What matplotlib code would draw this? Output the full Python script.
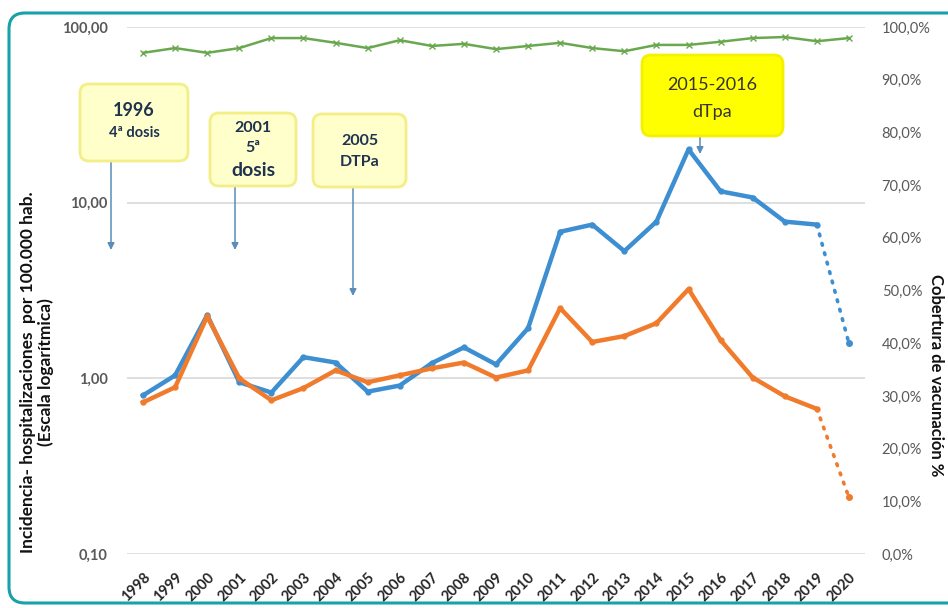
import matplotlib
matplotlib.use("Agg")
import matplotlib.pyplot as plt
from matplotlib.patches import FancyBboxPatch, FancyArrowPatch
from matplotlib.ticker import NullLocator

plt.rcParams['font.family'] = ['Lato', 'DejaVu Sans']

years = list(range(1998, 2021))
incidencia_total = [0.80, 1.04, 2.29, 0.95, 0.83, 1.32, 1.23, 0.84, 0.91, 1.22, 1.50,
                    1.20, 1.93, 6.83, 7.50, 5.30, 7.80, 20.1, 11.6, 10.7, 7.80, 7.50, 1.58]
incidencia_menores = [0.73, 0.89, 2.25, 1.00, 0.75, 0.88, 1.11, 0.95, 1.04, 1.14, 1.23,
                      1.01, 1.11, 2.51, 1.61, 1.74, 2.06, 3.22, 1.65, 1.01, 0.79, 0.67, 0.21]
cobertura = [95.1, 96.0, 95.1, 96.0, 97.9, 97.9, 97.0, 96.0, 97.5, 96.4, 96.8, 95.8,
             96.4, 97.0, 96.0, 95.4, 96.6, 96.6, 97.2, 97.9, 98.1, 97.3, 97.9]
left_ticks = [0.1, 1, 10, 100]
left_labels = ["0,10", "1,00", "10,00", "100,00"]
right_ticks = list(range(0, 101, 10))
right_labels = [f"{v},0%" for v in right_ticks]

BLUE = "#3d8fd1"
ORANGE = "#f07b2c"
GREEN = "#6aa84f"
W, H = 948, 608

fig = plt.figure(figsize=(W / 100, H / 100), dpi=100)
fig.patch.set_facecolor("white")

def fx(px):
    return px / W

def fy(py):
    return 1 - py / H

ax_l, ax_r, ax_t, ax_b = 127, 865, 27, 554
ax = fig.add_axes([fx(ax_l), fy(ax_b), fx(ax_r - ax_l), (ax_b - ax_t) / H])
ax.set_yscale("log")
ax.set_ylim(0.1, 100)
ax.set_xlim(1997.5, 2020.5)
for s in ax.spines.values():
    s.set_visible(False)
ax.set_yticks(left_ticks)
ax.set_yticklabels(left_labels)
ax.yaxis.set_minor_locator(NullLocator())
ax.tick_params(axis="y", length=0, pad=14, labelsize=10.5, labelcolor="#595959")
for t in ax.get_yticklabels():
    t.set_fontweight("bold")
ax.set_xticks(years)
ax.set_xticklabels([str(y) for y in years], rotation=45, ha="right",
                   rotation_mode="anchor", fontsize=10.5, fontweight="bold", color="#262626")
ax.tick_params(axis="x", length=0, pad=12)
ax.grid(axis="y", which="major", color="#d9d9d9", lw=1.2)
ax.set_axisbelow(True)

# incidence series: solid up to 2019, dotted to 2020
ax.plot(years[:-1], incidencia_total[:-1], color=BLUE, lw=3.2, marker="o", ms=3.5,
        solid_joinstyle="round", zorder=4)
ax.plot(years[-2:], incidencia_total[-2:], color=BLUE, lw=2.6, ls=(0, (0.5, 2.2)),
        dash_capstyle="round", zorder=4)
ax.plot(years[-1], incidencia_total[-1], color=BLUE, marker="o", ms=4, zorder=4)

ax.plot(years[:-1], incidencia_menores[:-1], color=ORANGE, lw=3.2, marker="o", ms=3.5,
        solid_joinstyle="round", zorder=5)
ax.plot(years[-2:], incidencia_menores[-2:], color=ORANGE, lw=2.6, ls=(0, (0.5, 2.2)),
        dash_capstyle="round", zorder=5)
ax.plot(years[-1], incidencia_menores[-1], color=ORANGE, marker="o", ms=4, zorder=5)

fig.text(fx(37), fy(372),
         "Incidencia- hospitalizaciones  por 100.000 hab.\n(Escala logarítmica)",
         rotation=90, ha="center", va="center", fontsize=12.5, fontweight="bold",
         color="#111111", linespacing=1.15, multialignment="center")

ax2 = ax.twinx()
ax2.set_ylim(0, 100)
for s in ax2.spines.values():
    s.set_visible(False)
ax2.set_yticks(right_ticks)
ax2.set_yticklabels(right_labels)
ax2.tick_params(axis="y", length=0, pad=12, labelsize=10.5, labelcolor="#595959")
ax2.plot(years, cobertura, color=GREEN, lw=1.8, marker="x", ms=4, mew=1.0)

fig.text(fx(936), fy(375), "Cobertura de vacunación %", rotation=-90, ha="center",
         va="center", fontsize=12, fontweight="bold", color="#111111")

# intervention boxes with arrows
boxes = [
    dict(x0=80, y0=84, x1=188, y1=161, fc="#ffffcc", ec="#f3ee86", lines=[
        ("1996", 110, 13, "bold"), ("4ª dosis", 133, 10.5, "bold")],
        col="#1f3250", arrow=(111, 161, 250)),
    dict(x0=210, y0=113, x1=296, y1=186, fc="#ffffcc", ec="#f3ee86", lines=[
        ("2001", 128, 11.5, "bold"), ("5ª", 148, 11.5, "bold"), ("dosis", 171, 14, "bold")],
        col="#1f3250", arrow=(235, 186, 250)),
    dict(x0=313, y0=114, x1=406, y1=187, fc="#ffffcc", ec="#f3ee86", lines=[
        ("2005", 141, 11.5, "bold"), ("DTPa", 162, 11.5, "bold")],
        col="#1f3250", arrow=(353, 187, 296)),
    dict(x0=642, y0=55, x1=783, y1=136, fc="#ffff00", ec="#f5f000", lines=[
        ("2015-2016", 85, 13, "normal"), ("dTpa", 112, 13, "normal")],
        col="#333333", arrow=(700, 136, 154)),
]
for b in boxes:
    patch = FancyBboxPatch((b["x0"] / 100, (H - b["y1"]) / 100),
                           (b["x1"] - b["x0"]) / 100, (b["y1"] - b["y0"]) / 100,
                           boxstyle="round,pad=0,rounding_size=0.09",
                           transform=fig.dpi_scale_trans, fc=b["fc"], ec=b["ec"],
                           lw=2, zorder=10)
    fig.patches.append(patch)
    cx = (b["x0"] + b["x1"]) / 2
    for txt, ty, fs, fw in b["lines"]:
        fig.text(fx(cx), fy(ty), txt, ha="center", va="center", fontsize=fs,
                 fontweight=fw, color=b["col"], zorder=11)
    axx, ay0, ay1 = b["arrow"]
    fig.add_artist(FancyArrowPatch(
        (fx(axx), fy(ay0)), (fx(axx), fy(ay1)), transform=fig.transFigure,
        arrowstyle="-|>,head_length=4,head_width=2", color="#5b8db8", lw=1.1,
        shrinkA=0, shrinkB=0, zorder=9))

# outer rounded frame
frame = FancyBboxPatch((9 / 100, (H - 603) / 100), (975 - 9) / 100, (603 - 13) / 100,
                       boxstyle="round,pad=0,rounding_size=0.16",
                       transform=fig.dpi_scale_trans, fc="none", ec="#17a2a8", lw=2.2,
                       zorder=20)
fig.patches.append(frame)

fig.savefig("out.png", dpi=100, facecolor="white")
